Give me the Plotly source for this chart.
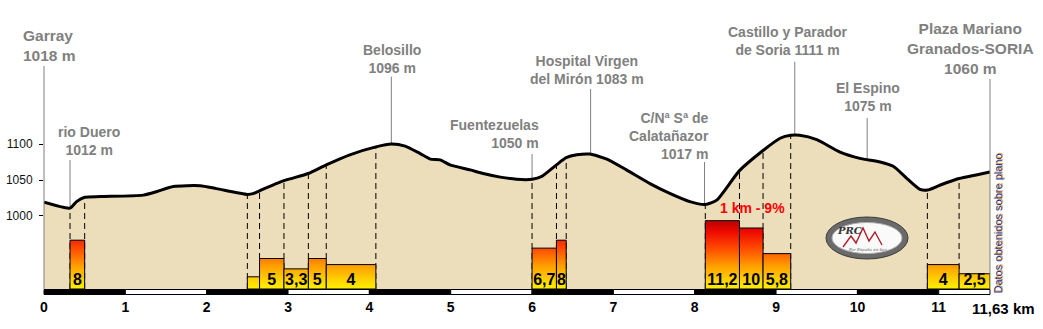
import numpy as np
import plotly.graph_objects as go

# ---------------- data ----------------
total_km = 11.63
profile_km = [0, 0.32, 0.40, 0.50, 0.69, 1.22, 1.39, 1.59, 1.92, 2.12, 2.50, 2.57, 2.65,
              2.95, 3.25, 3.47, 3.76, 4.08, 4.27, 4.44, 4.62, 4.75, 4.87, 4.99, 5.24,
              5.40, 5.61, 5.81, 6.00, 6.12, 6.30, 6.42, 6.55, 6.71, 6.92, 7.16, 7.45,
              7.70, 7.94, 8.13, 8.27, 8.55, 8.84, 9.05, 9.18, 9.29, 9.50, 9.78, 10.03,
              10.28, 10.44, 10.61, 10.77, 10.86, 11.02, 11.25, 11.46, 11.63]
profile_elev = [1019, 1011, 1020, 1026, 1027, 1029, 1034, 1041, 1042, 1038, 1030, 1031, 1035,
                1049, 1059, 1071, 1085, 1096, 1100, 1097, 1087, 1079, 1078, 1071, 1064,
                1059, 1054, 1051, 1051, 1055, 1071, 1081, 1085, 1086, 1079, 1064, 1045,
                1031, 1020, 1016, 1022, 1063, 1091, 1108, 1112, 1112, 1106, 1089, 1080,
                1075, 1069, 1052, 1037, 1036, 1043, 1052, 1057, 1061]

seg_start = [0.32, 2.50, 2.65, 2.95, 3.25, 3.47, 6.00, 6.30, 8.13, 8.55, 8.84, 10.86, 11.25]
seg_end = [0.50, 2.65, 2.95, 3.25, 3.47, 4.08, 6.30, 6.42, 8.55, 8.84, 9.18, 11.25, 11.63]
seg_grade = [8, 2, 5, 3.3, 5, 4, 6.7, 8, 11.2, 10, 5.8, 4, 2.5]
seg_label = ["8", "", "5", "3,3", "5", "4", "6,7", "8", "11,2", "10", "5,8", "4", "2,5"]

place_text = ["Garray<br>1018 m", "rio Duero<br>1012 m", "Belosillo<br>1096 m",
              "Fuentezuelas<br>1050 m", "Hospital Virgen<br>del Mirón 1083 m",
              "C/Nª Sª de<br>Calatañazor<br>1017 m", "Castillo y Parador<br>de Soria 1111 m",
              "El Espino<br>1075 m", "Plaza Mariano<br>Granados-SORIA<br>1060 m"]
place_km = [0, 0.32, 4.27, 6.00, 6.72, 8.12, 9.23, 10.12, 11.63]

x_ticks = list(range(12))
y_ticks = [1000, 1050, 1100]

# ---------------- geometry helpers (layout only) ----------------
Y_MIN, Y_MAX = 898.6, 1300.0
PLOT_L, PLOT_W, PLOT_H = 44, 946, 289
PX_PER_KM = PLOT_W / total_km
PX_PER_M = PLOT_H / (Y_MAX - Y_MIN)
GRADE_TOP = PLOT_H / 6.1


def kx(px):
    return (px - PLOT_L) / PX_PER_KM


def ey(py):
    return Y_MAX - py / PX_PER_M


def paper_x(px):
    return (px - PLOT_L) / PLOT_W


def paper_y(py):
    return (PLOT_H - py) / PLOT_H


FONT = "Arial, Liberation Sans, sans-serif"
GRAY = "#808080"

fig = go.Figure()

# profile fill
fig.add_trace(go.Scatter(x=profile_km, y=profile_elev, mode="lines",
                         line=dict(width=0, shape="spline", smoothing=0.6),
                         fill="tozeroy", fillcolor="#ECDDBB", hoverinfo="skip"))

# dashed segment boundaries
bounds = sorted(set(seg_start + seg_end) - {total_km})
dx, dy = [], []
for b in bounds:
    dx += [b, b, None]
    dy += [Y_MIN, float(np.interp(b, profile_km, profile_elev)), None]
fig.add_trace(go.Scatter(x=dx, y=dy, mode="lines", hoverinfo="skip",
                         line=dict(color="black", width=1, dash="6px,4px")))

# profile line
fig.add_trace(go.Scatter(x=profile_km, y=profile_elev, mode="lines", hoverinfo="skip",
                         line=dict(color="black", width=3, shape="spline", smoothing=0.6)))

# gradient bars
cscale = [[0.0, "#FFF000"], [0.12, "#FFD400"], [0.32, "#FF9C00"],
          [0.55, "#FF4C00"], [0.78, "#EE0A00"], [1.0, "#A00000"]]
for s, e, g in zip(seg_start, seg_end, seg_grade):
    fig.add_trace(go.Scatter(x=[s, s, e, e, s], y=[0, g, g, 0, 0], yaxis="y2",
                             mode="lines", fill="toself", hoverinfo="skip",
                             fillgradient=dict(type="vertical", colorscale=cscale,
                                               start=0, stop=12),
                             line=dict(color="black", width=1)))

centers = [(s + e) / 2 for s, e in zip(seg_start, seg_end)]
fig.add_trace(go.Scatter(x=centers, y=[0] * len(centers), yaxis="y2", mode="text",
                         text=seg_label, textposition="top center", cliponaxis=False,
                         hoverinfo="skip",
                         textfont=dict(family=FONT, size=16, color="black", weight="bold")))

shapes = []
# leader lines
for i, k in enumerate(place_km):
    pass
leader_top_py = [66, 160, 76.7, 154, 89, 162, 61.7, 118, 79]
for i, (k, tp) in enumerate(zip(place_km, leader_top_py)):
    if i == 0 or i == len(place_km) - 1:
        shapes.append(dict(type="line", xref="paper", yref="y",
                           x0=0 if i == 0 else 1, x1=0 if i == 0 else 1,
                           y0=Y_MIN, y1=ey(tp), line=dict(color=GRAY, width=1)))
    else:
        shapes.append(dict(type="line", xref="x", yref="y", x0=k, x1=k,
                           y0=float(np.interp(k, profile_km, profile_elev)), y1=ey(tp),
                           line=dict(color=GRAY, width=1), layer="below"))

# km scale bar
for k in x_ticks:
    x1 = min(k + 1, total_km)
    shapes.append(dict(type="rect", xref="paper", yref="paper",
                       x0=k / total_km, x1=x1 / total_km,
                       y0=paper_y(289.5), y1=paper_y(294.5),
                       fillcolor="black" if k % 2 == 0 else "white",
                       line=dict(color="black", width=1)))

# logo
cx, cy = 867, 238
shapes.append(dict(type="circle", xref="x", yref="y", x0=kx(cx - 41), x1=kx(cx + 41),
                   y0=ey(cy + 21), y1=ey(cy - 21), fillcolor="#6A6A6A",
                   line=dict(color="#3C3C3C", width=1)))
shapes.append(dict(type="circle", xref="x", yref="y", x0=kx(cx - 35), x1=kx(cx + 35),
                   y0=ey(cy + 15.5), y1=ey(cy - 15.5), fillcolor="#FAFAFA",
                   line=dict(color="#B0B0B0", width=1)))
mpts = [(843, 247), (851, 236), (856, 243), (863, 228), (869, 241), (875, 232), (882, 245)]
path = "M " + " L ".join(f"{kx(px):.4f},{ey(py):.2f}" for px, py in mpts)
shapes.append(dict(type="path", xref="x", yref="y", path=path,
                   line=dict(color="#B0202A", width=1.4)))

annotations = []
# place labels
lab_specs = [
    # (px, py, anchor, align, size)
    (21, 45.5, "left", "left", 15.5),
    (89, 140.7, "center", "center", 14),
    (392, 59, "center", "center", 14),
    (541, 133.7, "right", "right", 14),
    (587, 70.3, "center", "center", 14),
    (711, 136.4, "right", "right", 14),
    (788, 40.5, "center", "center", 14),
    (868, 97.5, "center", "center", 14),
    (970, 48, "center", "center", 15.5),
]
for txt, (px, py, anc, al, sz) in zip(place_text, lab_specs):
    annotations.append(dict(text=txt, xref="paper", yref="paper", x=paper_x(px),
                            y=paper_y(py), xanchor=anc, yanchor="middle", align=al,
                            showarrow=False,
                            font=dict(family=FONT, size=sz, color=GRAY, weight="bold")))

annotations.append(dict(text="1 km - 9%", xref="paper", yref="paper", x=paper_x(752),
                        y=paper_y(207.5), xanchor="center", yanchor="middle",
                        showarrow=False,
                        font=dict(family=FONT, size=14, color="#FF0000", weight="bold")))
annotations.append(dict(text="11,63 km", xref="paper", yref="paper", x=paper_x(1003.5),
                        y=paper_y(308.5), xanchor="center", yanchor="middle",
                        showarrow=False,
                        font=dict(family=FONT, size=15, color="black", weight="bold")))
annotations.append(dict(text="Datos obtenidos sobre plano", xref="paper", yref="paper",
                        x=paper_x(997), y=paper_y(223.5), textangle=-90,
                        xanchor="center", yanchor="middle", showarrow=False,
                        font=dict(family=FONT, size=11, color="#1F3C90",
                                  shadow="1px 1px 0px #F2A040")))
annotations.append(dict(text="PRC", xref="paper", yref="paper", x=paper_x(849),
                        y=paper_y(230), xanchor="center", yanchor="middle",
                        showarrow=False,
                        font=dict(family="DejaVu Serif", size=10, color="#333333",
                                  style="italic", weight="bold")))
annotations.append(dict(text="Por España en bici", xref="paper", yref="paper",
                        x=paper_x(868), y=paper_y(249), xanchor="center",
                        yanchor="middle", showarrow=False,
                        font=dict(family="DejaVu Serif", size=4, color="#555555",
                                  style="italic")))

fig.update_layout(
    width=1043, height=329,
    margin=dict(l=PLOT_L, r=1043 - PLOT_L - PLOT_W, t=0, b=329 - PLOT_H, pad=0),
    paper_bgcolor="white", plot_bgcolor="white", showlegend=False,
    xaxis=dict(range=[0, total_km], tickvals=x_ticks,
               ticktext=[str(t) for t in x_ticks], showgrid=False, zeroline=False,
               showline=False, ticks="", ticklabelstandoff=8,
               tickfont=dict(family=FONT, size=14, color="black", weight="bold")),
    yaxis=dict(range=[Y_MIN, Y_MAX], tickvals=y_ticks,
               ticktext=[str(t) for t in y_ticks], ticks="outside", ticklen=4,
               tickcolor="black", showgrid=False, zeroline=False, showline=False,
               ticklabelstandoff=4,
               tickfont=dict(family=FONT, size=12, color="#111111")),
    yaxis2=dict(range=[0, GRADE_TOP], overlaying="y", visible=False),
    shapes=shapes, annotations=annotations,
)

fig.write_html("out.html")
